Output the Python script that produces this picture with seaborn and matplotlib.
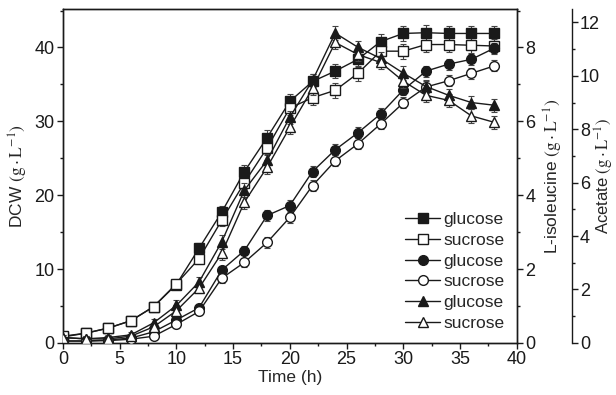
"""
Fed-batch fermentation: DCW, L-isoleucine and acetate on glucose vs sucrose.
Three y axes sharing one time axis.
"""

import matplotlib
matplotlib.use("Agg")
import matplotlib.pyplot as plt
from matplotlib.lines import Line2D
from matplotlib.ticker import MultipleLocator
import pandas as pd
import seaborn as sns

# ---- data ----
time_h = [0, 2, 4, 6, 8, 10, 12, 14, 16, 18, 20, 22, 24, 26, 28, 30, 32, 34, 36, 38]

dcw_glucose = [0.8, 1.3, 2.0, 3.0, 4.9, 7.9, 12.8, 17.7, 23.2, 27.8, 32.7, 35.4,
               36.8, 38.4, 40.8, 41.9, 42.0, 41.9, 41.9, 41.9]
dcw_sucrose = [0.9, 1.3, 2.0, 3.0, 4.9, 8.0, 11.4, 16.6, 21.7, 26.4, 31.8, 33.2,
               34.2, 36.5, 39.5, 39.5, 40.4, 40.4, 40.3, 40.2]
dcw_err = [0.3, 0.3, 0.4, 0.4, 0.5, 0.6, 0.7, 0.8, 0.9, 1.0, 1.0, 1.0,
           1.0, 1.0, 1.0, 1.0, 1.0, 1.0, 1.0, 1.0]

ile_glucose = [0.05, 0.05, 0.08, 0.13, 0.3, 0.62, 0.95, 1.97, 2.5, 3.45, 3.72, 4.64,
               5.23, 5.69, 6.2, 6.85, 7.36, 7.55, 7.68, 7.98]
ile_sucrose = [0.05, 0.05, 0.06, 0.1, 0.18, 0.5, 0.85, 1.75, 2.18, 2.72, 3.4, 4.26,
               4.93, 5.39, 5.93, 6.5, 6.93, 7.1, 7.3, 7.5]
ile_err = [0.05, 0.05, 0.05, 0.05, 0.08, 0.1, 0.1, 0.12, 0.12, 0.15, 0.15, 0.15,
           0.15, 0.15, 0.15, 0.15, 0.15, 0.15, 0.15, 0.15]

ace_glucose = [0.2, 0.15, 0.2, 0.3, 0.75, 1.4, 2.28, 3.78, 5.72, 6.84, 8.45, 9.83,
               11.6, 11.07, 10.65, 10.1, 9.6, 9.27, 9.0, 8.9]
ace_sucrose = [0.2, 0.15, 0.15, 0.25, 0.6, 1.2, 2.05, 3.36, 5.27, 6.58, 8.07, 9.53,
               11.25, 10.8, 10.5, 9.8, 9.27, 9.08, 8.5, 8.26]
ace_err = [0.1, 0.1, 0.1, 0.1, 0.15, 0.2, 0.2, 0.25, 0.25, 0.25, 0.25, 0.25,
           0.25, 0.25, 0.25, 0.25, 0.25, 0.25, 0.25, 0.25]

legend_labels = ["glucose", "sucrose", "glucose", "sucrose", "glucose", "sucrose"]

sns.set_theme(style="ticks")
plt.rcParams["font.family"] = ["Liberation Sans", "DejaVu Sans"]
plt.rcParams["mathtext.fontset"] = "stix"
plt.rcParams["axes.linewidth"] = 1.0
plt.rcParams["xtick.direction"] = "out"
plt.rcParams["ytick.direction"] = "out"

fig = plt.figure(figsize=(6.16, 3.95), dpi=100)
ax = fig.add_axes([0.102, 0.132, 0.737, 0.845])
ax_ile = ax.twinx()
ax_ace = ax.twinx()
ax_ace.spines["right"].set_position(("axes", 1.121))

ink = "#1a1a1a"
MS = 7


def draw(axis, y, err, marker, filled):
    df = pd.DataFrame({"t": time_h, "v": y})
    sns.lineplot(data=df, x="t", y="v", ax=axis, color=ink, lw=1.0,
                 marker=marker, markersize=MS, markeredgecolor=ink,
                 markerfacecolor=ink if filled else "white",
                 markeredgewidth=1.0, zorder=3)
    axis.errorbar(time_h, y, yerr=err, fmt="none", ecolor="#444444",
                  elinewidth=0.8, capsize=2.5, capthick=0.8, zorder=2)


draw(ax, dcw_glucose, dcw_err, "s", True)
draw(ax, dcw_sucrose, dcw_err, "s", False)
draw(ax_ile, ile_glucose, ile_err, "o", True)
draw(ax_ile, ile_sucrose, ile_err, "o", False)
draw(ax_ace, ace_glucose, ace_err, "^", True)
draw(ax_ace, ace_sucrose, ace_err, "^", False)

# axis ranges and ticks
ax.set_xlim(0, 40)
ax.set_ylim(0, 45.2)
ax_ile.set_ylim(0, 9.04)
ax_ace.set_ylim(0, 12.5)

ax.xaxis.set_major_locator(MultipleLocator(5))
ax.xaxis.set_minor_locator(MultipleLocator(2.5))
ax.yaxis.set_major_locator(MultipleLocator(10))
ax.yaxis.set_minor_locator(MultipleLocator(5))
ax_ile.yaxis.set_major_locator(MultipleLocator(2))
ax_ile.yaxis.set_minor_locator(MultipleLocator(1))
ax_ace.yaxis.set_major_locator(MultipleLocator(2))
ax_ace.yaxis.set_minor_locator(MultipleLocator(1))

for a in (ax, ax_ile, ax_ace):
    a.tick_params(which="major", length=4, width=1.0, labelsize=13, colors=ink, pad=2)
    a.tick_params(which="minor", length=2.5, width=1.0, colors=ink)
    for s in a.spines.values():
        s.set_color(ink)

ax_ace.spines["top"].set_visible(False)
ax_ace.spines["left"].set_visible(False)
ax_ace.spines["bottom"].set_visible(False)
ax_ace.spines["right"].set_bounds(0, 12.5)

ax.set_xlabel("Time (h)", fontsize=12.5, labelpad=1)
ax.set_ylabel(r"DCW $\mathrm{(g\cdot L^{-1})}$", fontsize=12.5, labelpad=3)
ax_ile.set_ylabel(r"L-isoleucine $\mathrm{(g\cdot L^{-1})}$", fontsize=12.5)
ax_ace.set_ylabel(r"Acetate $\mathrm{(g\cdot L^{-1})}$", fontsize=12)
ax_ile.yaxis.set_label_coords(1.056, 0.5)
ax_ace.yaxis.set_label_coords(1.168, 0.5)

# legend
styles = [("s", True), ("s", False), ("o", True), ("o", False), ("^", True), ("^", False)]
handles = [Line2D([], [], color=ink, lw=1.0, marker=m, markersize=MS,
                  markeredgecolor=ink, markerfacecolor=ink if f else "white")
           for m, f in styles]
ax.legend(handles, legend_labels, loc="lower right", bbox_to_anchor=(1.0, 0.0),
          frameon=False, fontsize=12.5, handlelength=2.0, handletextpad=0.2,
          labelspacing=0.32, borderaxespad=0.3)

fig.savefig("out.png", dpi=100)
